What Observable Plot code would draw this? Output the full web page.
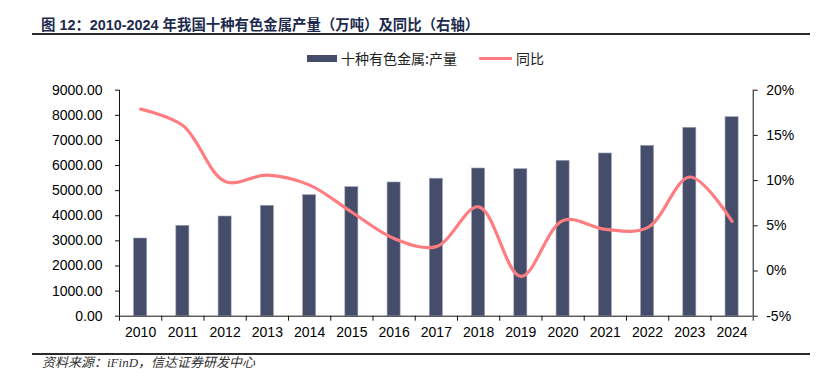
<!DOCTYPE html>
<html>
<head>
<meta charset="utf-8">
<script src="https://cdn.jsdelivr.net/npm/d3@7"></script>
<script src="https://cdn.jsdelivr.net/npm/@observablehq/plot@0.6"></script>
<style>
  html, body { margin: 0; padding: 0; background: #fff; }
  #wrap { position: relative; width: 820px; height: 376px; overflow: hidden; background: #fff; }
  #chart { position: absolute; left: 0; top: 0; }
  .abs { position: absolute; white-space: nowrap; }
  #title { left: 41px; top: 15px; font: bold 14.4px "Liberation Sans", "Noto Sans CJK SC", sans-serif; color: #1c2a4d; line-height: 20px; }
  .hr { position: absolute; left: 32px; width: 778px; height: 2px; background: #2a2a2a; }
  #source { left: 42px; top: 354px; font: italic 13px "Liberation Serif", "Noto Sans CJK SC", serif; color: #333; line-height: 18px; }
  .leg { font: 14px "Noto Sans CJK SC", sans-serif; color: #222; line-height: 18px; }
</style>
</head>
<body>
<div id="wrap">
  <div id="chart"></div>
  <div id="title" class="abs">图 12：2010-2024 年我国十种有色金属产量（万吨）及同比（右轴）</div>
  <div class="hr" style="top:32.5px"></div>
  <div class="abs" style="left:307px;top:55px;width:30px;height:7px;background:#454d6b"></div>
  <div class="abs leg" style="left:341px;top:49px">十种有色金属:产量</div>
  <div class="abs" style="left:479px;top:57px;width:33px;height:3px;background:#ff7c80;border-radius:1px"></div>
  <div class="abs leg" style="left:516px;top:49px">同比</div>
  <div class="hr" style="top:352.5px"></div>
  <div id="source" class="abs">资料来源：iFinD，信达证券研发中心</div>
</div>
<script>
const years = [2010, 2011, 2012, 2013, 2014, 2015, 2016, 2017, 2018, 2019, 2020, 2021, 2022, 2023, 2024];
const output = [3094, 3600, 3970, 4397, 4820, 5138, 5325, 5475, 5882, 5855, 6188, 6480, 6785, 7503, 7925];
const yoy = [17.9, 16.1, 9.9, 10.6, 9.5, 6.5, 3.6, 2.7, 7.1, -0.6, 5.6, 4.6, 4.8, 10.4, 5.5];
const leftTicks = [0, 1000, 2000, 3000, 4000, 5000, 6000, 7000, 8000, 9000];
const rightTicks = [-5, 0, 5, 10, 15, 20];

const leftMax = 9000, rMin = -5, rMax = 20;
const toY = p => (p - rMin) / (rMax - rMin) * leftMax;
const fromY = v => v / leftMax * (rMax - rMin) + rMin;

const data = years.map((year, i) => ({year, output: output[i], yoy: yoy[i]}));
const bounds = years.map(y => y - 0.5).concat([years[years.length - 1] + 0.5]);

const chart = Plot.plot({
  width: 820,
  height: 376,
  marginTop: 89.7,
  marginBottom: 60.3,
  marginLeft: 119,
  marginRight: 67.3,
  style: { fontFamily: "'Liberation Sans', Arial, sans-serif", fontSize: "14px", color: "#000", background: "#fff" },
  x: { type: "linear", domain: [years[0] - 0.5, years[years.length - 1] + 0.5] },
  y: { domain: [0, leftMax] },
  marks: [
    Plot.rectY(data, {
      x1: d => d.year - 0.5, x2: d => d.year + 0.5, y1: 0, y2: "output",
      insetLeft: 14.6, insetRight: 14.6,
      fill: "#454d6b", stroke: "#9ca0b4", strokeWidth: 0.6
    }),
    Plot.line(data, {
      x: "year", y: d => toY(d.yoy), curve: "catmull-rom",
      stroke: "#ff7c80", strokeWidth: 3.2, strokeLinecap: "round", strokeLinejoin: "round"
    }),
    Plot.ruleX([years[0] - 0.5, years[years.length - 1] + 0.5], { stroke: "#111", strokeWidth: 1 }),
    Plot.ruleY([0], { stroke: "#111", strokeWidth: 1 }),
    Plot.axisY({
      anchor: "left", ticks: leftTicks, tickFormat: d => d.toFixed(2),
      tickSize: 4, tickPadding: 13, label: null, stroke: "#111", fill: "#000"
    }),
    Plot.axisY({
      anchor: "right", ticks: rightTicks.map(toY), tickFormat: v => Math.round(fromY(v)) + "%",
      tickSize: 4, tickPadding: 9, label: null, stroke: "#111", fill: "#000"
    }),
    Plot.axisX({
      ticks: years, tickFormat: d => String(d), tickSize: 0, tickPadding: 11,
      label: null, fill: "#000"
    }),
    Plot.axisX({
      ticks: bounds, tickFormat: () => "", tickSize: 5, label: null, stroke: "#111"
    })
  ]
});
document.getElementById("chart").appendChild(chart);
</script>
</body>
</html>
